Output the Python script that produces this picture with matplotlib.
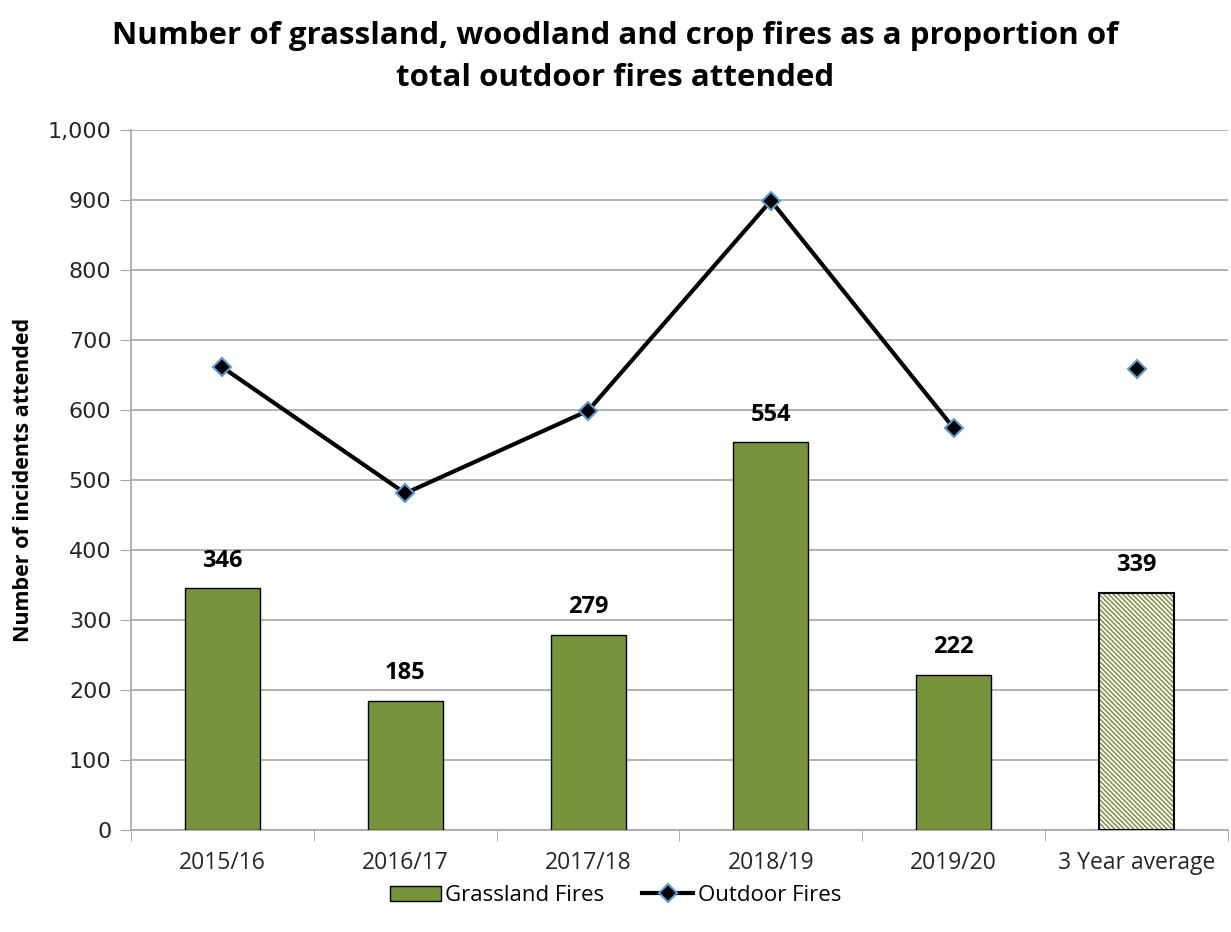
import matplotlib
matplotlib.use("Agg")
import matplotlib.pyplot as plt
import numpy as np
from matplotlib.lines import Line2D
from matplotlib.patches import Patch

categories = ["2015/16", "2016/17", "2017/18", "2018/19", "2019/20", "3 Year average"]
grassland = [346, 185, 279, 554, 222, 339]
outdoor = [661, 481, 599, 899, 574, 659]
yticks = [0, 100, 200, 300, 400, 500, 600, 700, 800, 900, 1000]

green = "#77933C"
marker_edge = "#5B9BD5"
grid_c = "#A6A6A6"
plt.rcParams["hatch.linewidth"] = 1.1

fig = plt.figure(figsize=(12.31, 9.32), dpi=100)
ax = fig.add_axes([131/1231, 102/932, (1228-131)/1231, 700/932])

x = np.arange(len(categories))
w = 0.41
ax.bar(x[:5], grassland[:5], width=w, color=green, edgecolor="black", linewidth=1, zorder=3)
ax.bar(x[5], grassland[5], width=w, color="white", edgecolor=green, hatch="\\" * 7, linewidth=0, zorder=3)
ax.bar(x[5], grassland[5], width=w, fill=False, edgecolor="black", linewidth=1.5, zorder=4)

for xi, v in zip(x, grassland):
    ax.annotate(f"{v}", (xi, v), xytext=(0, 11), textcoords="offset points", ha="center", va="bottom",
                fontsize=17, fontweight="bold", family="Open Sans", zorder=5)

ax.plot(x[:5], outdoor[:5], color="black", linewidth=3, zorder=5,
        marker="D", markersize=9, markerfacecolor="black", markeredgecolor=marker_edge, markeredgewidth=1.5)
ax.plot(x[5:], outdoor[5:], linestyle="none", zorder=5,
        marker="D", markersize=9, markerfacecolor="black", markeredgecolor=marker_edge, markeredgewidth=1.5)

ax.set_xlim(-0.5, len(categories) - 0.5)
ax.set_ylim(0, 1000)
ax.set_yticks(yticks)
ax.set_yticklabels([f"{t:,}" for t in yticks], fontsize=16, family="DejaVu Sans", color="#262626")
ax.set_xticks(x)
ax.set_xticklabels(categories, fontsize=16.5, family="Open Sans", color="#262626")
ax.set_xticks(np.arange(-0.5, len(categories)), minor=True)
ax.tick_params(axis="x", which="major", length=0, pad=15)
ax.tick_params(axis="x", which="minor", length=8, color=grid_c)
ax.tick_params(axis="y", length=8, color=grid_c, pad=6)

ax.grid(axis="y", color=grid_c, linewidth=1.2, zorder=0)
ax.set_axisbelow(True)
for s in ["top", "right"]:
    ax.spines[s].set_visible(False)
ax.spines["left"].set_color(grid_c)
ax.spines["bottom"].set_color(grid_c)
ax.spines["left"].set_linewidth(1.2)
ax.spines["bottom"].set_linewidth(1.2)

ax.set_ylabel("Number of incidents attended", fontsize=15.5, fontweight="bold", family="Open Sans")
ax.yaxis.set_label_coords(-0.088, 0.5)

fig.suptitle("Number of grassland, woodland and crop fires as a proportion of\ntotal outdoor fires attended",
             x=0.5, y=0.978, fontsize=22.5, fontweight="bold", family="Open Sans", linespacing=1.55)

handles = [Patch(facecolor=green, edgecolor="black", linewidth=1),
           Line2D([0], [0], color="black", linewidth=3, marker="D", markersize=9,
                  markerfacecolor="black", markeredgecolor=marker_edge, markeredgewidth=1.5)]
fig.legend(handles, ["Grassland Fires", "Outdoor Fires"], loc="center", bbox_to_anchor=(0.5, 0.039),
           ncol=2, frameon=False, prop={"family": "Open Sans", "size": 16}, handlelength=2.3,
           handletextpad=0.2, columnspacing=1.7)

fig.savefig("out.png", dpi=100)
